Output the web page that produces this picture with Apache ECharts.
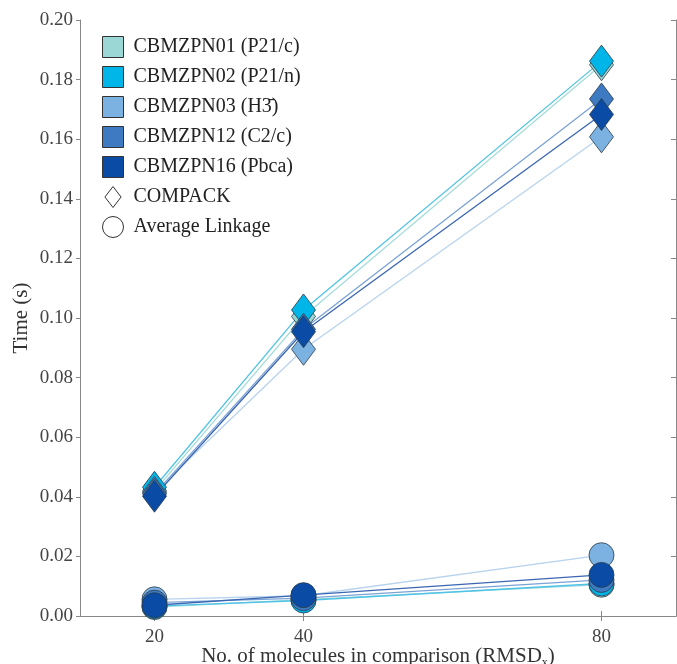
<!DOCTYPE html>
<html>
<head>
<meta charset="utf-8">
<script src="https://cdn.jsdelivr.net/npm/echarts@6/dist/echarts.min.js"></script>
<style>
  html, body { margin: 0; padding: 0; background: #fff; }
  #chart { width: 677px; height: 664px; }
</style>
</head>
<body>
<div id="chart"></div>
<script>
// number of molecules in comparison
var xValues = [20, 40, 80]
var xTicks = [20, 40, 80]

var structures = ['CBMZPN01 (P21/c)', 'CBMZPN02 (P21/n)', 'CBMZPN03 (H3̄)', 'CBMZPN12 (C2/c)', 'CBMZPN16 (Pbca)']
var markerColors = ['#9bd8d5', '#00b6e8', '#7cb2e1', '#3e7ac1', '#0a4ca5']
var lineColors = ['#a6dcdb', '#4fc3e6', '#b7d3ee', '#7aa2d5', '#3a66b2']

// COMPACK timings (s)
var compack01 = [0.0420, 0.1005, 0.1850]
var compack02 = [0.0432, 0.1027, 0.1862]
var compack03 = [0.0415, 0.0895, 0.1608]
var compack12 = [0.0410, 0.0962, 0.1735]
var compack16 = [0.0402, 0.0954, 0.1683]

// Average linkage timings (s)
var avg01 = [0.0030, 0.0055, 0.0105]
var avg02 = [0.0033, 0.0052, 0.0109]
var avg03 = [0.0056, 0.0068, 0.0204]
var avg12 = [0.0045, 0.0060, 0.0121]
var avg16 = [0.0036, 0.0070, 0.0138]

var compackSets = [compack01, compack02, compack03, compack12, compack16]
var avgSets = [avg01, avg02, avg03, avg12, avg16]

var serif = 'Liberation Serif'

function pairs (vals) {
  return xValues.map(function (x, i) { return [x, vals[i]] })
}

function makeSeries (name, vals, i, symbol, size) {
  return {
    name: name,
    type: 'line',
    data: pairs(vals),
    symbol: symbol,
    symbolSize: size,
    lineStyle: { color: lineColors[i], width: 1.3 },
    itemStyle: { color: markerColors[i], borderColor: '#2a3a4a', borderWidth: 0.8 },
    emphasis: { disabled: true },
    animation: false
  }
}

var series = []
for (var i = 0; i < structures.length; i++) {
  series.push(makeSeries(structures[i], compackSets[i], i, 'diamond', [24, 32]))
}
for (i = 0; i < structures.length; i++) {
  series.push(makeSeries(structures[i], avgSets[i], i, 'circle', 25))
}
// legend-only entries for the two methods
series.push({ name: 'COMPACK', type: 'line', data: [], itemStyle: { color: '#fff', borderColor: '#333' } })
series.push({ name: 'Average Linkage', type: 'line', data: [], itemStyle: { color: '#fff', borderColor: '#333' } })

var legendData = structures.map(function (s) { return { name: s, icon: 'rect' } })
legendData.push({ name: 'COMPACK', icon: 'path://M0,-1.3L1,0L0,1.3L-1,0Z' })
legendData.push({ name: 'Average Linkage', icon: 'circle' })

var axisLine = { show: true, lineStyle: { color: '#888', width: 1 } }
var labelStyle = { color: '#444', fontFamily: serif, fontSize: 19 }

var chart = echarts.init(document.getElementById('chart'))
chart.setOption({
  backgroundColor: '#fff',
  animation: false,
  grid: { left: 80, right: 1, top: 20, bottom: 48, outerBoundsMode: 'none', containLabel: false },
  legend: {
    orient: 'vertical',
    left: 97,
    top: 31,
    itemWidth: 21,
    itemHeight: 21,
    itemGap: 8,
    data: legendData,
    selectedMode: false,
    itemStyle: { borderColor: '#333', borderWidth: 1 },
    textStyle: { color: '#222', fontFamily: serif, fontSize: 20, lineHeight: 21, padding: [0, 0, 0, 5] }
  },
  xAxis: [{
    type: 'value',
    min: 10,
    max: 90,
    axisLine: axisLine,
    splitLine: { show: false },
    axisTick: { inside: true, length: 5, customValues: xTicks, lineStyle: { color: '#888' } },
    axisLabel: Object.assign({ customValues: xTicks, margin: 12 }, labelStyle),
    name: 'No. of molecules in comparison (RMSD{sub|x})',
    nameLocation: 'middle',
    nameGap: 27,
    nameMoveOverlap: false,
    nameTextStyle: {
      color: '#333',
      fontFamily: serif,
      fontSize: 21,
      rich: { sub: { fontFamily: serif, fontSize: 12, verticalAlign: 'bottom', padding: [14, 0, 0, 0], color: '#333' } }
    }
  }, {
    type: 'value',
    position: 'top',
    min: 10,
    max: 90,
    axisLine: axisLine,
    splitLine: { show: false },
    axisTick: { inside: true, length: 5, customValues: xTicks, lineStyle: { color: '#888' } },
    axisLabel: { show: false }
  }],
  yAxis: [{
    type: 'value',
    min: 0,
    max: 0.2,
    interval: 0.02,
    axisLine: axisLine,
    splitLine: { show: false },
    axisTick: { show: true, inside: false, length: 4, lineStyle: { color: '#888' } },
    axisLabel: Object.assign({ margin: 7, formatter: function (v) { return v.toFixed(2) } }, labelStyle),
    name: 'Time (s)',
    nameLocation: 'middle',
    nameGap: 48,
    nameMoveOverlap: false,
    nameTextStyle: { color: '#333', fontFamily: serif, fontSize: 21 }
  }, {
    type: 'value',
    position: 'right',
    min: 0,
    max: 0.2,
    interval: 0.02,
    axisLine: axisLine,
    splitLine: { show: false },
    axisTick: { show: true, inside: true, length: 5, lineStyle: { color: '#888' } },
    axisLabel: { show: false }
  }],
  series: series
})
</script>
</body>
</html>
